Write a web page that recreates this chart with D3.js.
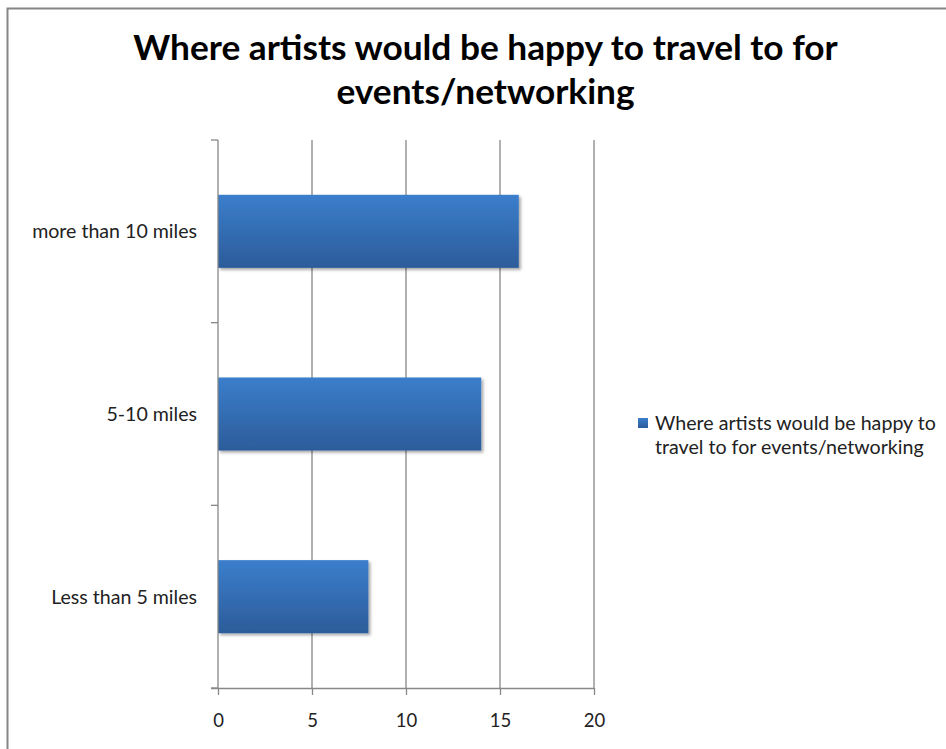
<!DOCTYPE html>
<html>
<head>
<meta charset="utf-8">
<script src="https://cdn.jsdelivr.net/npm/d3@7"></script>
<style>
  html, body { margin: 0; padding: 0; background: #fff; }
  svg { display: block; }
  text { font-family: Lato, "Open Sans", "Liberation Sans", sans-serif; }
</style>
</head>
<body>
<svg id="chart" width="946" height="749"></svg>
<script>
// Survey responses: distance artists would travel for events/networking
const categories = ["more than 10 miles", "5-10 miles", "Less than 5 miles"];
const values = [16, 14, 8];
const xTicks = [0, 5, 10, 15, 20];
const seriesName = "Where artists would be happy to travel to for events/networking";
const titleLines = ["Where artists would be happy to travel to for", "events/networking"];
const legendLines = ["Where artists would be happy to", "travel to for events/networking"];

const svg = d3.select("#chart");
const W = 946, H = 749;
const plot = { left: 218, right: 594, top: 140, bottom: 688 };

// Scale a text element's font size so its widest line spans the given width
function fitWidth(textSel, target) {
  const node = textSel.node();
  const base = parseFloat(textSel.attr("font-size"));
  const w = node.getBBox().width;
  if (w > 0) textSel.attr("font-size", base * target / w);
}

// Outer chart frame
svg.append("rect")
  .attr("x", 7.5).attr("y", 8.5)
  .attr("width", W + 10).attr("height", H + 10)
  .attr("fill", "#fff").attr("stroke", "#868686").attr("stroke-width", 2);

const defs = svg.append("defs");
const grad = defs.append("linearGradient")
  .attr("id", "barGrad").attr("x1", 0).attr("y1", 0).attr("x2", 0).attr("y2", 1);
grad.append("stop").attr("offset", "0%").attr("stop-color", "#3b7ecc");
grad.append("stop").attr("offset", "100%").attr("stop-color", "#2c5c9a");

const shadow = defs.append("filter").attr("id", "barShadow")
  .attr("x", "-5%").attr("y", "-10%").attr("width", "115%").attr("height", "140%");
shadow.append("feDropShadow")
  .attr("dx", 2).attr("dy", 2).attr("stdDeviation", 1.6)
  .attr("flood-color", "#000").attr("flood-opacity", 0.35);

// Scales
const x = d3.scaleLinear().domain([0, 20]).range([plot.left, plot.right]);
const y = d3.scaleBand().domain(categories)
  .range([plot.top, plot.bottom]).paddingInner(0.6).paddingOuter(0.3);

// Title
const title = svg.append("text")
  .attr("font-size", 31).attr("font-weight", "bold")
  .attr("text-anchor", "middle").attr("fill", "#000");
title.selectAll("tspan").data(titleLines).join("tspan")
  .attr("x", 485.5).attr("y", (d, i) => 60 + i * 44)
  .text(d => d);
fitWidth(title, 705);

// Vertical gridlines
svg.append("g").selectAll("line").data(xTicks.filter(t => t > 0)).join("line")
  .attr("x1", d => x(d)).attr("x2", d => x(d))
  .attr("y1", plot.top).attr("y2", plot.bottom)
  .attr("stroke", "#878787").attr("stroke-width", 1.3);

// Bars
svg.append("g").selectAll("rect").data(categories).join("rect")
  .attr("x", x(0))
  .attr("y", d => y(d))
  .attr("width", (d, i) => x(values[i]) - x(0))
  .attr("height", y.bandwidth())
  .attr("fill", "url(#barGrad)")
  .attr("filter", "url(#barShadow)");

// Y axis line with category boundary ticks
const yAxis = svg.append("g");
yAxis.append("line")
  .attr("x1", plot.left).attr("x2", plot.left)
  .attr("y1", plot.top).attr("y2", plot.bottom)
  .attr("stroke", "#878787").attr("stroke-width", 1.3);
const boundaries = categories.map(c => y(c) - y.step() * y.paddingOuter())
  .concat([plot.bottom]);
yAxis.selectAll("line.tick").data(boundaries).join("line")
  .attr("class", "tick")
  .attr("x1", plot.left - 7).attr("x2", plot.left)
  .attr("y1", d => d).attr("y2", d => d)
  .attr("stroke", "#878787").attr("stroke-width", 1.3);
const catLabels = yAxis.append("g").attr("font-size", 16);
catLabels.selectAll("text").data(categories).join("text")
  .attr("x", 197)
  .attr("y", d => y(d) + y.bandwidth() / 2)
  .attr("dy", "0.35em")
  .attr("text-anchor", "end")
  .attr("fill", "#222")
  .text(d => d);
{
  const widest = catLabels.select("text").node().getComputedTextLength();
  catLabels.attr("font-size", 16 * 165 / widest);
}

// X axis
const xAxis = d3.axisBottom(x).tickValues(xTicks).tickSize(7).tickPadding(19);
const gx = svg.append("g").attr("transform", `translate(0,${plot.bottom})`).call(xAxis);
gx.select(".domain")
  .attr("d", `M${plot.left - 7},0.5H${plot.right}`)
  .attr("stroke", "#878787").attr("stroke-width", 1.3);
gx.selectAll(".tick line").attr("stroke", "#878787").attr("stroke-width", 1.3);
gx.attr("font-size", null);
gx.selectAll(".tick text")
  .attr("font-size", 18.5).attr("fill", "#222")
  .style("font-family", "Lato, 'Open Sans', sans-serif");

// Legend
const lg = svg.append("g").attr("transform", "translate(638,418)");
lg.append("rect").attr("width", 10).attr("height", 10)
  .attr("fill", "url(#barGrad)");
const legendText = lg.append("text")
  .attr("font-size", 17).attr("fill", "#222");
legendText.selectAll("tspan").data(legendLines).join("tspan")
  .attr("x", 17).attr("y", (d, i) => 12 + i * 24)
  .text(d => d);
fitWidth(legendText, 281);
lg.append("title").text(seriesName);
</script>
</body>
</html>
